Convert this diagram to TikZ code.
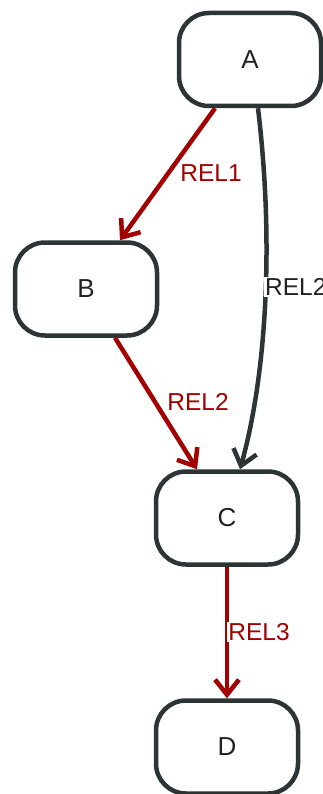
\documentclass[tikz,border=0pt]{standalone}
\usepackage{fontspec}
\setmainfont{Liberation Sans}
\usetikzlibrary{arrows.meta}
\definecolor{darkline}{HTML}{2D3436}
\definecolor{relred}{HTML}{A30000}
\definecolor{txt}{HTML}{222222}
\begin{document}
\begin{tikzpicture}[x=1pt,y=-1pt,
  state/.style={draw=darkline, line width=4.5pt, rounded corners=30pt, minimum width=142pt, minimum height=93pt, inner sep=0pt, font=\fontsize{26}{30}\selectfont, text=txt},
  rel/.style={line width=4.5pt, -{Straight Barb[length=15pt,width=24pt]}},
  redrel/.style={rel, draw=relred},
  darkrel/.style={rel, draw=darkline},
  lbl/.style={fill=white, inner sep=1pt, font=\fontsize{24.5}{28}\selectfont},
  redlbl/.style={lbl, text=relred},
  darklbl/.style={lbl, text=txt}]
\useasboundingbox (0,0) rectangle (323,794);
\node[state] (A) at (250,59.5) {A};
\node[state] (B) at (86,289) {B};
\node[state] (C) at (227,518) {C};
\node[state] (D) at (227,747) {D};
\draw[redrel] ([xshift=-35pt]A.south) -- ([xshift=34pt]B.north);
\draw[darkrel] ([xshift=8pt]A.south) .. controls (275,250) and (265,380) .. ([xshift=13pt]C.north);
\draw[redrel] ([xshift=29pt]B.south) -- ([xshift=-30pt]C.north);
\draw[redrel] (C.south) -- (D.north);
\node[redlbl] (l1) at (211,173) {REL1};
\node[darklbl, anchor=west] (l2) at (264,287) {REL2};
\node[redlbl] (l3) at (198,402) {REL2};
\node[redlbl] (l4) at (259,632) {REL3};
\end{tikzpicture}
\end{document}
